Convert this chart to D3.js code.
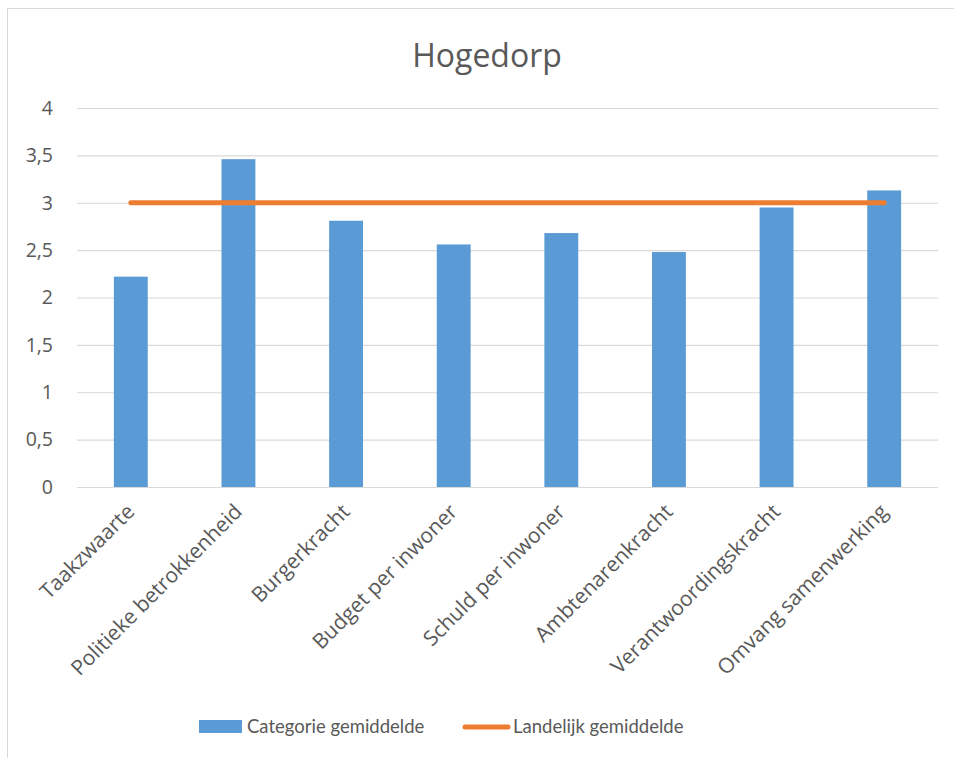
<!DOCTYPE html>
<html>
<head>
<meta charset="utf-8">
<script src="https://cdn.jsdelivr.net/npm/d3@7"></script>
<style>
  html, body { margin: 0; padding: 0; background: #fff; }
  svg { display: block; font-family: "Open Sans", sans-serif; }
</style>
</head>
<body>
<svg id="chart" width="954" height="758"></svg>
<script>
// Categories and scores for Hogedorp
const categories = [
  "Taakzwaarte",
  "Politieke betrokkenheid",
  "Burgerkracht",
  "Budget per inwoner",
  "Schuld per inwoner",
  "Ambtenarenkracht",
  "Verantwoordingskracht",
  "Omvang samenwerking"
];
const categoryValues = [2.22, 3.46, 2.81, 2.56, 2.68, 2.48, 2.95, 3.13];
const nationalAverage = [3, 3, 3, 3, 3, 3, 3, 3];
const yTicks = [0, 0.5, 1, 1.5, 2, 2.5, 3, 3.5, 4];
const seriesNames = ["Categorie gemiddelde", "Landelijk gemiddelde"];
const chartTitle = "Hogedorp";

const svg = d3.select("#chart");
const textColor = "#595959";
const gridColor = "#D9D9D9";
const barColor = "#5B9BD5";
const lineColor = "#ED7D31";

// Chart frame
svg.append("rect")
  .attr("x", 7.5).attr("y", 8.5)
  .attr("width", 1000).attr("height", 800)
  .attr("fill", "#fff").attr("stroke", gridColor).attr("stroke-width", 1);

const plot = { left: 77, right: 938, top: 108, bottom: 487 };

const x = d3.scaleBand()
  .domain(categories)
  .range([plot.left, plot.right])
  .paddingInner(0.685)
  .paddingOuter(0.3425);

const y = d3.scaleLinear().domain([0, 4]).range([plot.bottom, plot.top]);

// Gridlines and y tick labels
const yAxis = d3.axisLeft(y)
  .tickValues(yTicks)
  .tickSize(-(plot.right - plot.left))
  .tickPadding(24)
  .tickFormat(d => String(d).replace(".", ","));

const gy = svg.append("g")
  .attr("transform", `translate(${plot.left},0)`)
  .call(yAxis);
gy.select(".domain").remove();
gy.selectAll(".tick line").attr("stroke", gridColor).attr("stroke-width", 1.2);
gy.selectAll(".tick text")
  .attr("fill", textColor)
  .attr("font-size", 19.5)
  .attr("font-family", "'Open Sans', sans-serif");

// Bars
svg.append("g").selectAll("rect")
  .data(categories.map((c, i) => ({ c, v: categoryValues[i] })))
  .join("rect")
  .attr("x", d => x(d.c))
  .attr("width", x.bandwidth())
  .attr("y", d => y(d.v))
  .attr("height", d => y(0) - y(d.v))
  .attr("fill", barColor);

// National average line
const line = d3.line()
  .x((d, i) => x(categories[i]) + x.bandwidth() / 2)
  .y(d => y(d));
svg.append("path")
  .datum(nationalAverage)
  .attr("d", line)
  .attr("fill", "none")
  .attr("stroke", lineColor)
  .attr("stroke-width", 5)
  .attr("stroke-linecap", "round");

// Category labels
const xAxis = d3.axisBottom(x).tickSize(0).tickPadding(0);
const gx = svg.append("g")
  .attr("transform", `translate(0,${plot.bottom})`)
  .call(xAxis);
gx.select(".domain").remove();
gx.selectAll(".tick text")
  .attr("fill", textColor)
  .attr("font-size", 21)
  .attr("font-family", "'Open Sans', sans-serif")
  .attr("text-anchor", "end")
  .attr("y", 0)
  .attr("dy", null)
  .attr("transform", "translate(5,26) rotate(-45)");

// Title
svg.append("text")
  .attr("x", 487)
  .attr("y", 67)
  .attr("text-anchor", "middle")
  .attr("font-size", 32)
  .attr("fill", textColor)
  .text(chartTitle);

// Legend
const legend = svg.append("g").attr("font-family", "Lato, sans-serif");
legend.append("rect")
  .attr("x", 199).attr("y", 720).attr("width", 43).attr("height", 13)
  .attr("fill", barColor);
legend.append("text")
  .attr("x", 247).attr("y", 733)
  .attr("font-size", 18.5).attr("fill", textColor)
  .text(seriesNames[0]);
legend.append("line")
  .attr("x1", 465).attr("x2", 508).attr("y1", 727).attr("y2", 727)
  .attr("stroke", lineColor).attr("stroke-width", 5).attr("stroke-linecap", "round");
legend.append("text")
  .attr("x", 513).attr("y", 733)
  .attr("font-size", 18.5).attr("fill", textColor)
  .text(seriesNames[1]);
</script>
</body>
</html>
